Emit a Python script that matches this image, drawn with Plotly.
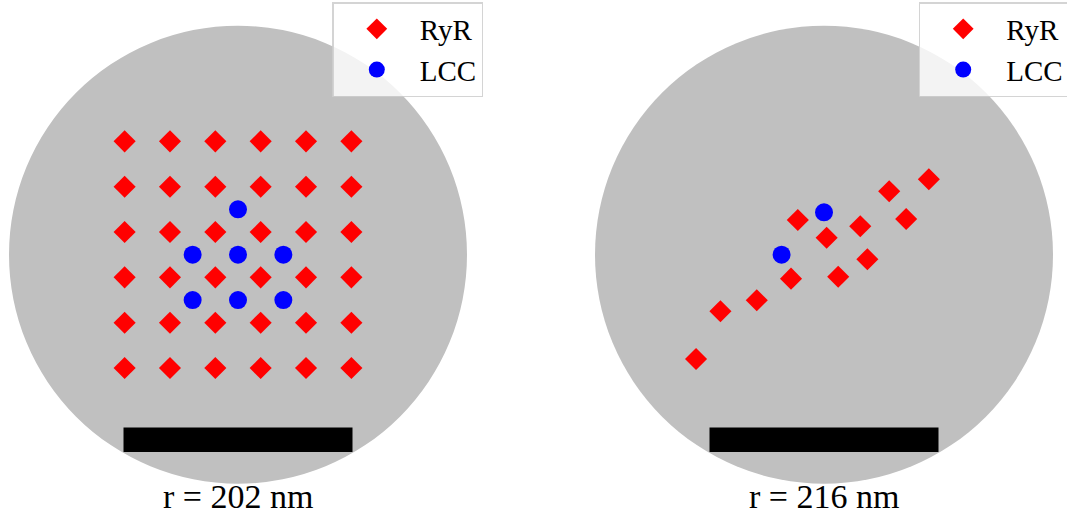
import plotly.graph_objects as go

# ---------------- data ----------------
radii = [202, 216]                       # nm
titles = ["r = 202 nm", "r = 216 nm"]

# panel A: regular RyR lattice + LCC cluster (nm)
ryr_a_cols = [-100, -60, -20, 20, 60, 100]
ryr_a_rows = [100, 60, 20, -20, -60, -100]
lcc_a_x = [0, -40, 0, 40, -40, 0, 40]
lcc_a_y = [40, 0, 0, 0, -40, -40, -40]

# panel B: irregular RyR arrangement (nm)
ryr_b_x = [-120.7, -97.7, -63.4, -31.1, -24.7, 2.5, 13.4, 34.2, 40.9, 61.5, 77.5, 98.9]
ryr_b_y = [-98.4, -53.4, -43.0, -22.6, 32.7, 16.0, -20.8, 26.8, -4.3, 59.8, 33.7, 71.1]
lcc_b_x = [0, -40]
lcc_b_y = [40, 0]

ryr_a_x = [c for r in ryr_a_rows for c in ryr_a_cols]
ryr_a_y = [r for r in ryr_a_rows for c in ryr_a_cols]

# ---------------- layout constants (pixels) ----------------
W, H = 1067, 514
split = 531
centers_px = [(238.0, 254.7), (824.0, 254.7)]
R_px = 229.0
domains_px = [(0, split), (split, W)]
bar_frac = (-0.862, -0.755)

SERIF = "Liberation Serif, Times New Roman, serif"

fig = go.Figure()

panels = [
    (ryr_a_x, ryr_a_y, lcc_a_x, lcc_a_y),
    (ryr_b_x, ryr_b_y, lcc_b_x, lcc_b_y),
]

layout_axes = {}
shapes = []
annotations = []
for i, (rx, ry, lx, ly) in enumerate(panels):
    sfx = "" if i == 0 else str(i + 1)
    xa, ya = "x" + sfx, "y" + sfx
    leg = "legend" + sfx
    r = radii[i]
    s = R_px / r
    cx, cy = centers_px[i]
    d0, d1 = domains_px[i]
    xr = [(d0 - cx) / s, (d1 - cx) / s]
    yr = [(cy - H) / s, cy / s]
    layout_axes["xaxis" + sfx] = dict(domain=[d0 / W, d1 / W], range=xr, visible=False,
                                      fixedrange=True, anchor=ya)
    layout_axes["yaxis" + sfx] = dict(domain=[0, 1], range=yr, visible=False,
                                      fixedrange=True, anchor=xa)

    shapes.append(dict(type="circle", xref=xa, yref=ya, x0=-r, x1=r, y0=-r, y1=r,
                       fillcolor="#c0c0c0", line=dict(width=0), layer="below"))
    shapes.append(dict(type="rect", xref=xa, yref=ya, x0=-r / 2, x1=r / 2,
                       y0=bar_frac[0] * r, y1=bar_frac[1] * r,
                       fillcolor="black", line=dict(width=0), layer="below"))

    fig.add_trace(go.Scatter(x=rx, y=ry, mode="markers", name="RyR",
                             marker=dict(symbol="diamond", size=17, color="#ff0000",
                                         line=dict(width=0)),
                             xaxis=xa, yaxis=ya, legend=leg, hoverinfo="skip"))
    fig.add_trace(go.Scatter(x=lx, y=ly, mode="markers", name="LCC",
                             marker=dict(symbol="circle", size=18, color="#0000ff",
                                         line=dict(width=0)),
                             xaxis=xa, yaxis=ya, legend=leg, hoverinfo="skip"))

    annotations.append(dict(text=titles[i], xref=xa, yref="paper", x=0,
                            y=1 - 496 / H, xanchor="center", yanchor="middle",
                            showarrow=False, font=dict(family=SERIF, size=34, color="black")))

legend_style = dict(bgcolor="rgba(255,255,255,0.8)", bordercolor="rgba(204,204,204,0.85)",
                    borderwidth=1.5, font=dict(family=SERIF, size=29, color="black"),
                    itemwidth=76, xanchor="left", yanchor="top", y=1 - 2 / H)

fig.update_layout(
    width=W, height=H,
    margin=dict(l=0, r=0, t=0, b=0, autoexpand=False),
    paper_bgcolor="white", plot_bgcolor="rgba(0,0,0,0)",
    showlegend=True,
    legend=dict(x=332.3 / W, **legend_style),
    legend2=dict(x=918.7 / W, **legend_style),
    shapes=shapes,
    annotations=annotations,
    **layout_axes,
)

fig.write_html("out.html")
